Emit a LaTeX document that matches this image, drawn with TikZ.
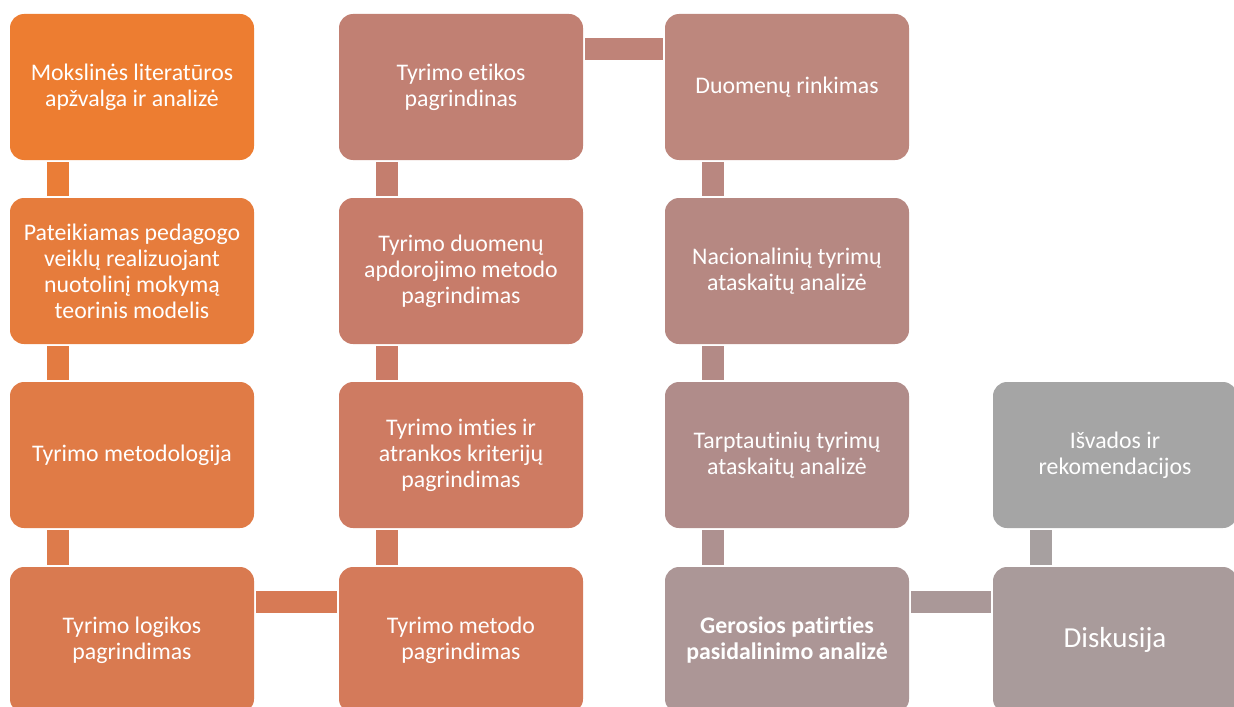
\documentclass[tikz,border=0pt]{standalone}
\usepackage{fontspec}
\setmainfont{Carlito}[Ligatures={NoCommon,NoContextual}]
\usetikzlibrary{calc}

% step colours, orange fading to grey
\definecolor{c1}{HTML}{ED7D31}
\definecolor{c2}{HTML}{E67C3C}
\definecolor{c3}{HTML}{E07B46}
\definecolor{c4}{HTML}{D97A50}
\definecolor{c5}{HTML}{D47A5A}
\definecolor{c6}{HTML}{CE7B62}
\definecolor{c7}{HTML}{C77C6A}
\definecolor{c8}{HTML}{C18073}
\definecolor{c9}{HTML}{BD877D}
\definecolor{c10}{HTML}{B68882}
\definecolor{c11}{HTML}{B08C8A}
\definecolor{c12}{HTML}{AC9696}
\definecolor{c13}{HTML}{A99B9B}
\definecolor{c14}{HTML}{A5A5A5}

\tikzset{
  stepbox/.style={fill=#1, draw=none, rounded corners=7pt,
    minimum width=122pt, minimum height=73pt, inner sep=2pt,
    text=white, align=center, font=\fontsize{11.9}{13}\selectfont},
  link/.style={draw=#1, line width=11pt, line cap=butt}
}

\begin{document}
\begin{tikzpicture}[x=0.5pt, y=-0.5pt]
\useasboundingbox (0,0) rectangle (1234,706);

% first column
\node[stepbox=c1] (b1) at (132,87)  {Mokslinės literatūros\\apžvalga ir analizė};
\node[stepbox=c2] (b2) at (132,271) {Pateikiamas pedagogo\\veiklų realizuojant\\nuotolinį mokymą\\teorinis modelis};
\node[stepbox=c3] (b3) at (132,455) {Tyrimo metodologija};
\node[stepbox=c4] (b4) at (132,640) {Tyrimo logikos\\pagrindimas};

% second column
\node[stepbox=c5] (b5) at (461,640) {Tyrimo metodo\\pagrindimas};
\node[stepbox=c6] (b6) at (461,455) {Tyrimo imties ir\\atrankos kriterijų\\pagrindimas};
\node[stepbox=c7] (b7) at (461,271) {Tyrimo duomenų\\apdorojimo metodo\\pagrindimas};
\node[stepbox=c8] (b8) at (461,87)  {Tyrimo etikos\\pagrindinas};

% third column
\node[stepbox=c9]  (b9)  at (787,87)  {Duomenų rinkimas};
\node[stepbox=c10] (b10) at (787,271) {Nacionalinių tyrimų\\ataskaitų analizė};
\node[stepbox=c11] (b11) at (787,455) {Tarptautinių tyrimų\\ataskaitų analizė};
\node[stepbox=c12, font=\fontsize{11.9}{13}\selectfont\bfseries] (b12) at (787,640) {Gerosios patirties\\pasidalinimo analizė};

% fourth column
\node[stepbox=c13, font=\fontsize{14.5}{16}\selectfont] (b13) at (1115,640) {Diskusija};
\node[stepbox=c14] (b14) at (1115,455) {Išvados ir\\rekomendacijos};

% links between consecutive steps
\draw[link=c1!50!c2]   ([xshift=-37pt,yshift=-1pt]b1.south)  -- ([xshift=-37pt,yshift=1pt]b2.north);
\draw[link=c2!50!c3]   ([xshift=-37pt,yshift=-1pt]b2.south)  -- ([xshift=-37pt,yshift=1pt]b3.north);
\draw[link=c3!50!c4]   ([xshift=-37pt,yshift=-1pt]b3.south)  -- ([xshift=-37pt,yshift=1pt]b4.north);
\draw[link=c4!50!c5]   ([yshift=19pt,xshift=1pt]b4.east)     -- ([yshift=19pt,xshift=-1pt]b5.west);
\draw[link=c5!50!c6]   ([xshift=-37pt,yshift=1pt]b5.north)   -- ([xshift=-37pt,yshift=-1pt]b6.south);
\draw[link=c6!50!c7]   ([xshift=-37pt,yshift=1pt]b6.north)   -- ([xshift=-37pt,yshift=-1pt]b7.south);
\draw[link=c7!50!c8]   ([xshift=-37pt,yshift=1pt]b7.north)   -- ([xshift=-37pt,yshift=-1pt]b8.south);
\draw[link=c8!50!c9]   ([yshift=19pt,xshift=1pt]b8.east)     -- ([yshift=19pt,xshift=-1pt]b9.west);
\draw[link=c9!50!c10]  ([xshift=-37pt,yshift=-1pt]b9.south)  -- ([xshift=-37pt,yshift=1pt]b10.north);
\draw[link=c10!50!c11] ([xshift=-37pt,yshift=-1pt]b10.south) -- ([xshift=-37pt,yshift=1pt]b11.north);
\draw[link=c11!50!c12] ([xshift=-37pt,yshift=-1pt]b11.south) -- ([xshift=-37pt,yshift=1pt]b12.north);
\draw[link=c12!50!c13] ([yshift=19pt,xshift=1pt]b12.east)    -- ([yshift=19pt,xshift=-1pt]b13.west);
\draw[link=c13!50!c14] ([xshift=-37pt,yshift=1pt]b13.north)  -- ([xshift=-37pt,yshift=-1pt]b14.south);
\end{tikzpicture}
\end{document}
